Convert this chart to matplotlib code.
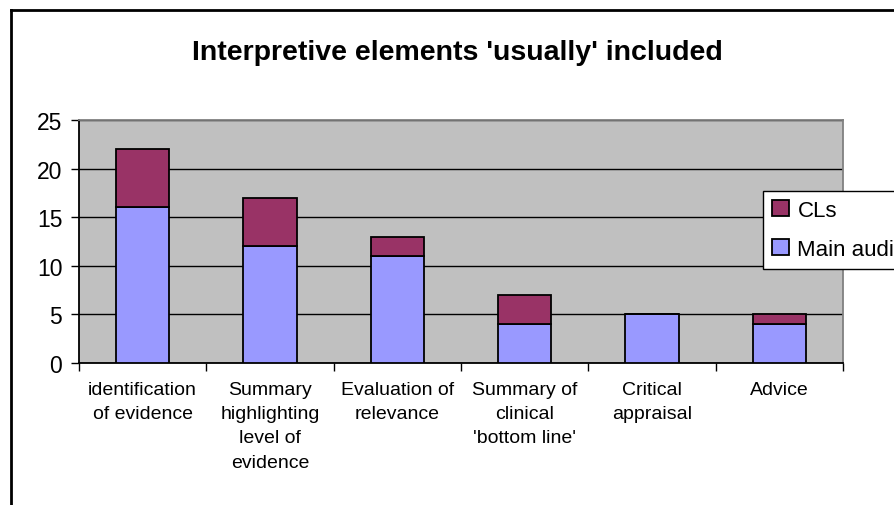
import numpy as np
import matplotlib
matplotlib.use('Agg')
import matplotlib.pyplot as plt
from matplotlib.lines import Line2D

plt.rcParams['font.family'] = ['Liberation Sans', 'DejaVu Sans']

# Counts per interpretive element
categories = ["identification\nof evidence", "Summary\nhighlighting\nlevel of\nevidence",
              "Evaluation of\nrelevance", "Summary of\nclinical\n'bottom line'",
              "Critical\nappraisal", "Advice"]
main_audit = [16, 12, 11, 4, 5, 4]
cls = [6, 5, 2, 3, 0, 1]
y_ticks = [0, 5, 10, 15, 20, 25]

W, H = 895, 506
fig = plt.figure(figsize=(W / 100, H / 100), dpi=100)
ax = fig.add_axes([79 / W, 1 - 364 / H, (843 - 79) / W, (364 - 121) / H])
ax.set_facecolor('#C0C0C0')

x = np.arange(len(categories))
bw = 0.42
b1 = ax.bar(x, main_audit, bw, color='#9999FF', edgecolor='black', linewidth=1.3,
            label='Main audit', zorder=3)
b2 = ax.bar(x, cls, bw, bottom=main_audit, color='#993366', edgecolor='black',
            linewidth=1.3, label='CLs', zorder=3)

ax.set_xlim(-0.5, len(categories) - 0.5)
ax.set_ylim(0, 25)
ax.set_yticks(y_ticks)
ax.yaxis.grid(True, color='black', linewidth=1.0, zorder=1)
ax.set_axisbelow(True)

# tick marks sit on category boundaries, labels in the middle
ax.set_xticks(np.arange(len(categories) + 1) - 0.5)
ax.set_xticklabels([])
ax.set_xticks(x, minor=True)
ax.set_xticklabels(categories, minor=True, fontsize=14, linespacing=1.55)
ax.tick_params(axis='x', which='major', length=6, width=1, color='black')
ax.tick_params(axis='x', which='minor', length=0, pad=13)
ax.tick_params(axis='y', length=6, width=1, pad=6, labelsize=16.5)

for s in ['top', 'right']:
    ax.spines[s].set_color('#808080')
    ax.spines[s].set_linewidth(1.3)
for s in ['left', 'bottom']:
    ax.spines[s].set_color('black')
    ax.spines[s].set_linewidth(1.3)

fig.text(0.511, 1 - 53 / H, "Interpretive elements 'usually' included",
         ha='center', va='center', fontsize=20.5, fontweight='bold')

leg = fig.legend([b2, b1], ['CLs', 'Main audit'], loc='upper left',
                 bbox_to_anchor=(763 / W, 1 - 192 / H), fontsize=16,
                 frameon=True, fancybox=False, framealpha=1, edgecolor='black',
                 handlelength=0.75, handleheight=0.75, handletextpad=0.4,
                 borderpad=0.4, labelspacing=0.8, borderaxespad=0)
leg.get_frame().set_linewidth(1.0)

# chart border (right and bottom edges fall outside the canvas)
fig.add_artist(Line2D([11 / W, 11 / W], [0, 1 - 11 / H], color='black', linewidth=2))
fig.add_artist(Line2D([11 / W, 1], [1 - 11 / H, 1 - 11 / H], color='black', linewidth=2))

fig.savefig('out.png', dpi=100)
